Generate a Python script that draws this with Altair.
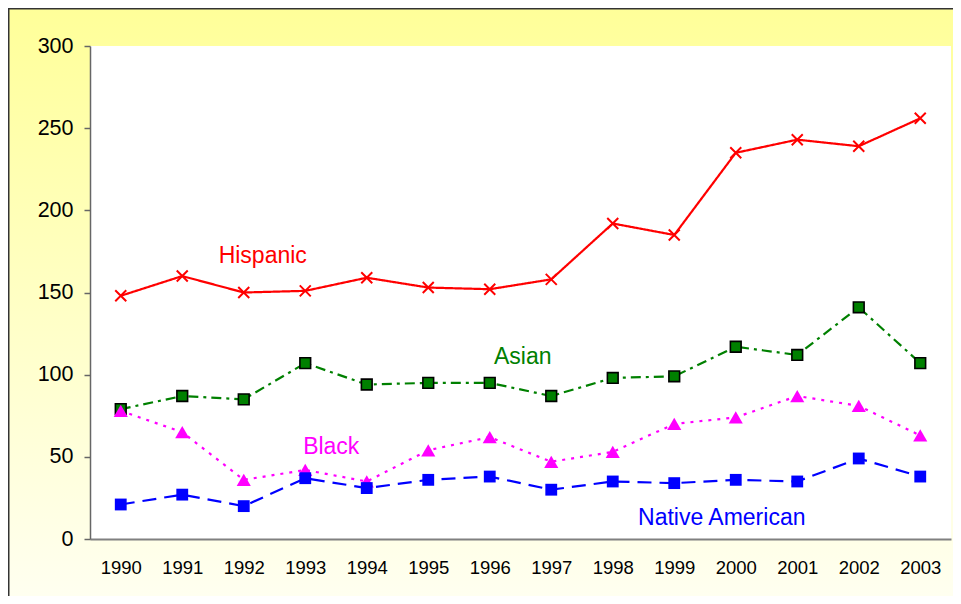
import altair as alt
import pandas as pd

years = list(range(1990, 2004))
hispanic = [148, 160, 150, 151, 159, 153, 152, 158, 192, 185, 235, 243, 239, 256]
asian = [79, 87, 85, 107, 94, 95, 95, 87, 98, 99, 117, 112, 141, 107]
black = [78, 65, 36, 42, 35, 54, 62, 47, 53, 70, 74, 87, 81, 63]
native_american = [21, 27, 20, 37, 31, 36, 38, 30, 35, 34, 36, 35, 49, 38]
series_names = ["Hispanic", "Asian", "Black", "Native American"]
y_ticks = [0, 50, 100, 150, 200, 250, 300]

# where each series name is written (year, value)
label_years = [1992, 1996, 1993, 2000]
label_values = [172, 111, 56.2, 12.6]

series_values = [hispanic, asian, black, native_american]

W, H = 861, 493
PAD = {"left": 82, "top": 38, "right": 2, "bottom": 57}
FONT = "Liberation Sans"

styles = [
    dict(color="#FF0000", dash=[1, 0], shape="M-1,-1L1,1M-1,1L1,-1", filled=False,
         stroke="#FF0000", sw=2, size=121, dx=19),
    dict(color="#008000", dash=[10, 5, 3, 5], shape="square", filled=True,
         stroke="#000000", sw=1.6, size=115, dx=33),
    dict(color="#FF00FF", dash=[3, 6], shape="triangle-up", filled=True,
         stroke=None, sw=0, size=200, dx=26),
    dict(color="#0000FF", dash=[14, 8], shape="square", filled=True,
         stroke=None, sw=0, size=140, dx=-14),
]

one = pd.DataFrame({"k": [0]})

bg = alt.Chart(one).mark_rect(
    fill=alt.LinearGradient(
        gradient="linear",
        stops=[alt.GradientStop(color="#FFFF99", offset=0),
               alt.GradientStop(color="#FFFFF0", offset=1)],
        x1=0, x2=0, y1=0, y2=1,
    ),
    stroke=None,
).encode(
    x=alt.value(-PAD["left"]), x2=alt.value(W + PAD["right"]),
    y=alt.value(-PAD["top"]), y2=alt.value(H + PAD["bottom"]),
)

plot_bg = alt.Chart(one).mark_rect(fill="white", stroke=None).encode(
    x=alt.value(0), x2=alt.value(W), y=alt.value(0), y2=alt.value(H)
)

frame_top = alt.Chart(one).mark_rule(color="#333333", strokeWidth=1.5).encode(
    x=alt.value(-PAD["left"] + 0.75), x2=alt.value(W + PAD["right"]),
    y=alt.value(-PAD["top"] + 0.75),
)
frame_left = alt.Chart(one).mark_rule(color="#333333", strokeWidth=1.5).encode(
    x=alt.value(-PAD["left"] + 0.75),
    y=alt.value(-PAD["top"]), y2=alt.value(H + PAD["bottom"]),
)

x_enc = alt.X(
    "year:O",
    scale=alt.Scale(type="point", padding=0.5),
    axis=alt.Axis(
        title=None, labelAngle=0, labelFontSize=18.5, labelFont=FONT,
        labelColor="#000000", ticks=False, tickSize=0, labelPadding=19,
        domainColor="#808080", domainWidth=2, grid=False, zindex=1,
    ),
)
y_enc = alt.Y(
    "value:Q",
    scale=alt.Scale(domain=[0, 300], nice=False, zero=True),
    axis=alt.Axis(
        title=None, values=y_ticks, labelFontSize=21.5, labelFont=FONT,
        labelColor="#000000", tickSize=6, tickColor="#666666", tickWidth=1.5,
        domainColor="#666666", domainWidth=1.5, labelPadding=11, grid=False,
        zindex=1,
    ),
)

layers = [bg, plot_bg, frame_top, frame_left]
for name, vals, st in zip(series_names, series_values, styles):
    df = pd.DataFrame({"year": years, "value": vals, "series": name})
    base = alt.Chart(df).encode(x=x_enc, y=y_enc)
    line = base.mark_line(color=st["color"], strokeWidth=2.2, strokeDash=st["dash"])
    pkw = dict(shape=st["shape"], size=st["size"], opacity=1, filled=st["filled"])
    if st["filled"]:
        pkw["fill"] = st["color"]
        if st["stroke"]:
            pkw["stroke"] = st["stroke"]
            pkw["strokeWidth"] = st["sw"]
        else:
            pkw["strokeWidth"] = 0
    else:
        pkw["stroke"] = st["stroke"]
        pkw["strokeWidth"] = st["sw"]
    pts = base.mark_point(**pkw)
    layers += [line, pts]

for name, ly, lv, st in zip(series_names, label_years, label_values, styles):
    ldf = pd.DataFrame({"year": [ly], "value": [lv], "label": [name]})
    txt = alt.Chart(ldf).mark_text(
        color=st["color"], font=FONT, fontSize=23, align="center",
        baseline="middle", dx=st["dx"],
    ).encode(x=x_enc, y=y_enc, text="label:N")
    layers.append(txt)

chart = alt.layer(*layers).properties(
    width=W, height=H, padding=PAD,
    autosize=alt.AutoSizeParams(type="none"),
    background="white",
).configure_view(stroke=None)

chart.save("out.html", embed_options={"renderer": "svg", "actions": False})
